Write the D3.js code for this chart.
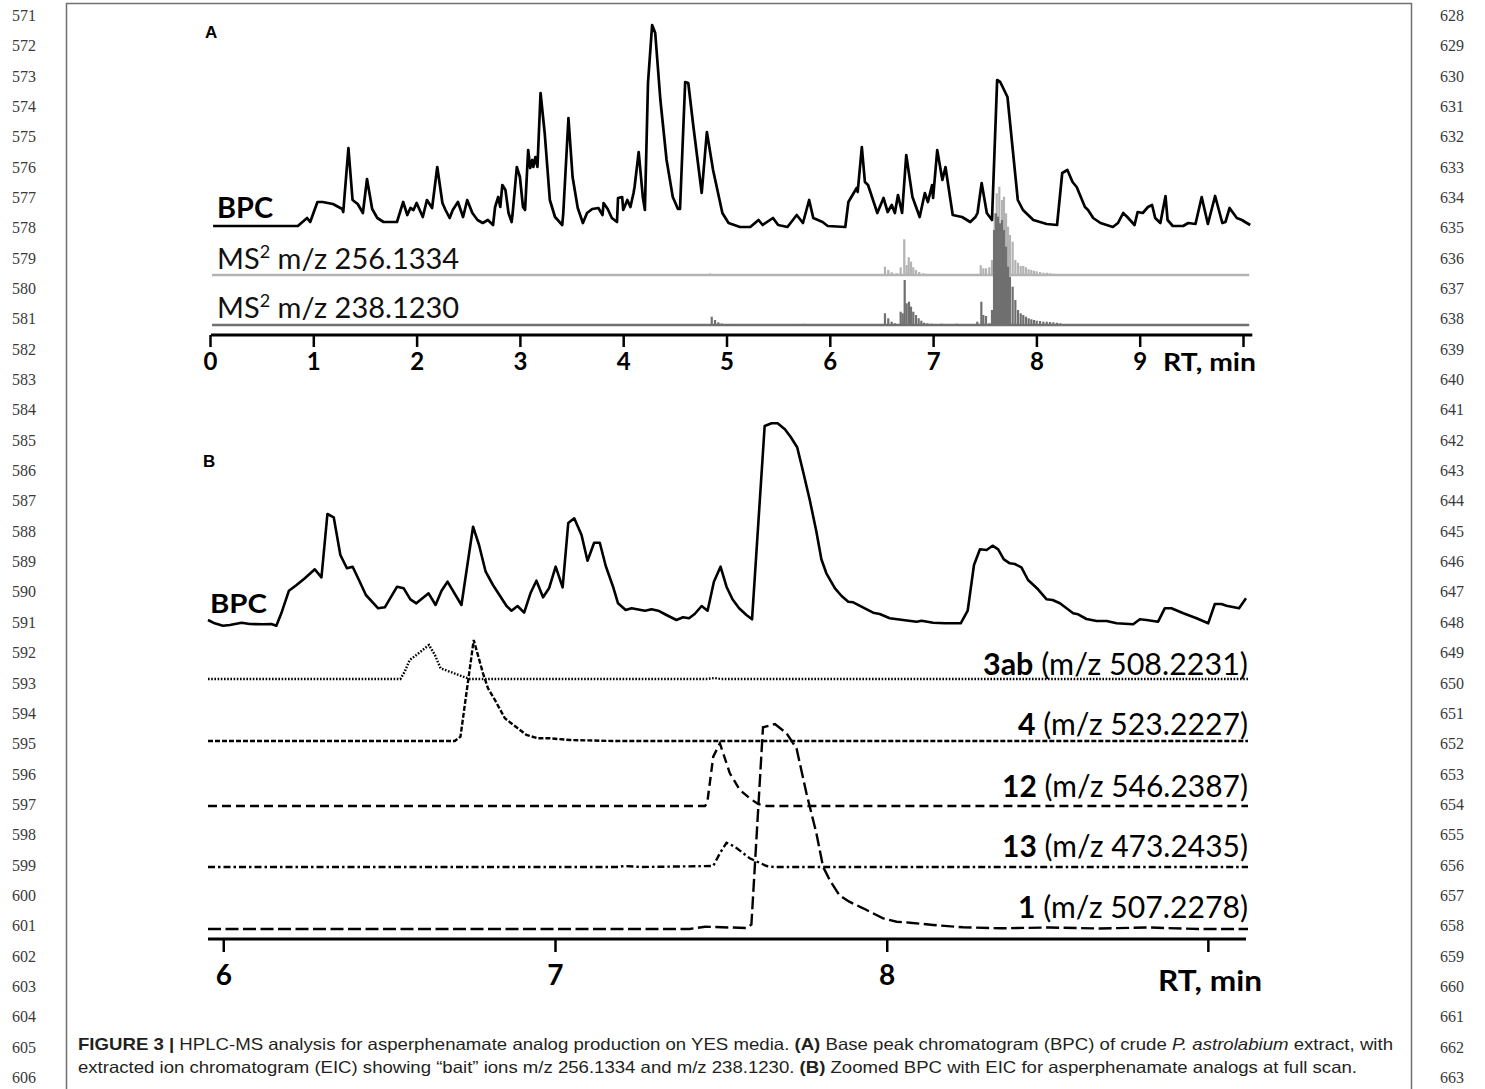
<!DOCTYPE html>
<html><head><meta charset="utf-8">
<script src="https://cdn.jsdelivr.net/npm/d3@7"></script>
<style>html,body{margin:0;padding:0;background:#fff;} svg{display:block;}</style>
</head><body><svg id="c" width="1485" height="1089"></svg>
<script>
// ---------------- DATA ----------------
// Panel A: base peak chromatogram [RT min, relative intensity]
const bpcA = [[0.03,1],[0.85,1],[0.94,9],[0.97,5],[1.04,25],[1.09,25],[1.19,23],[1.28,18],[1.29,15],[1.34,79],[1.38,27],[1.43,23],[1.48,14],[1.52,48],[1.57,18],[1.62,9],[1.68,5],[1.81,5],[1.87,25],[1.91,12],[1.94,19],[1.97,17],[2.00,24],[2.03,17],[2.06,10],[2.10,27],[2.15,19],[2.20,60],[2.25,24],[2.28,17],[2.32,9],[2.35,17],[2.40,25],[2.45,10],[2.49,27],[2.54,14],[2.59,7],[2.64,4],[2.69,7],[2.74,2],[2.76,20],[2.79,30],[2.81,20],[2.83,42],[2.86,37],[2.89,14],[2.92,5],[2.93,14],[2.97,60],[3.00,50],[3.03,20],[3.05,17],[3.08,77],[3.10,59],[3.12,67],[3.13,60],[3.15,70],[3.17,60],[3.20,134],[3.24,94],[3.29,27],[3.34,10],[3.41,2],[3.42,14],[3.47,109],[3.51,50],[3.56,19],[3.61,4],[3.65,14],[3.70,18],[3.76,19],[3.80,12],[3.81,24],[3.85,18],[3.89,9],[3.94,5],[3.95,29],[3.99,30],[4.00,17],[4.04,27],[4.07,20],[4.10,34],[4.11,40],[4.15,75],[4.19,30],[4.21,17],[4.24,144],[4.28,202],[4.31,194],[4.36,127],[4.42,67],[4.48,30],[4.53,18],[4.55,18],[4.60,145],[4.63,144],[4.68,100],[4.76,34],[4.81,95],[4.87,57],[4.96,14],[5.02,4],[5.13,0],[5.23,0],[5.31,7],[5.35,2],[5.45,9],[5.50,2],[5.59,0],[5.68,12],[5.74,4],[5.80,27],[5.84,9],[5.93,5],[5.98,1],[6.15,0],[6.18,25],[6.26,39],[6.27,35],[6.31,80],[6.34,45],[6.37,42],[6.46,14],[6.52,29],[6.56,15],[6.60,22],[6.63,14],[6.66,32],[6.70,14],[6.74,72],[6.80,30],[6.87,10],[6.92,34],[6.95,25],[6.99,42],[7.00,29],[7.04,77],[7.09,47],[7.12,60],[7.19,12],[7.28,10],[7.36,5],[7.41,10],[7.43,14],[7.47,44],[7.52,14],[7.57,7],[7.62,147],[7.65,145],[7.72,130],[7.82,27],[7.87,17],[7.97,7],[8.10,3],[8.20,2],[8.25,54],[8.30,57],[8.35,45],[8.39,40],[8.47,20],[8.50,17],[8.55,9],[8.62,4],[8.74,0],[8.79,4],[8.84,14],[8.88,10],[8.95,2],[8.98,15],[9.03,14],[9.08,20],[9.12,22],[9.15,9],[9.20,4],[9.25,31],[9.27,7],[9.32,1],[9.42,1],[9.47,4],[9.54,3],[9.60,30],[9.66,3],[9.73,31],[9.80,4],[9.83,5],[9.87,19],[9.94,9],[9.99,7],[10.02,5],[10.07,2]];

// Panel A: MS2 "bait" ion traces [RT min, intensity]
const ms2_256 = [[4.84,1.5],[6.534,8.3],[6.566,5],[6.599,2.7],[6.648,1.7],[6.686,7.7],[6.721,35.7],[6.744,10],[6.764,17.7],[6.786,13.3],[6.808,7.7],[6.834,5],[6.866,3],[6.905,1.7],[6.954,1],[7.461,9.7],[7.486,6.7],[7.512,6.7],[7.544,7.7],[7.570,15],[7.596,61.7],[7.616,81.7],[7.641,88.3],[7.667,75],[7.686,78.3],[7.706,61.7],[7.725,48.3],[7.744,40],[7.770,33.3],[7.796,15],[7.822,12.3],[7.848,9],[7.873,9],[7.899,7.7],[7.925,5.7],[7.951,5],[7.977,4.3],[8.003,3.7],[8.035,3],[8.067,2.3],[8.100,2.3],[8.132,1.7],[8.164,1.3],[8.199,1]];
const ms2_238 = [[4.857,8.3],[4.889,5],[4.921,2.7],[4.954,1.5],[5.063,1],[5.663,1],[5.750,1.2],[6.534,11.7],[6.566,6.7],[6.599,3.3],[6.631,1.7],[6.686,13.3],[6.706,11.7],[6.725,45],[6.744,21.7],[6.767,23.3],[6.786,18.3],[6.808,13.3],[6.834,10],[6.860,6.7],[6.886,4.3],[6.912,2.3],[6.944,1.7],[6.986,1.3],[7.083,1.3],[7.228,1.3],[7.428,3.3],[7.467,23.3],[7.486,10],[7.512,9],[7.544,1.7],[7.570,15],[7.590,95],[7.609,111.7],[7.628,108.3],[7.648,101.7],[7.667,105],[7.686,95],[7.706,78.3],[7.725,58.3],[7.744,48.3],[7.770,38.3],[7.796,25],[7.822,15],[7.848,11.7],[7.873,10],[7.899,8.3],[7.925,6.7],[7.951,5.7],[7.977,5],[8.003,4.3],[8.035,4],[8.067,3.3],[8.100,3.3],[8.132,3],[8.164,2.7],[8.199,2.3],[8.231,1.7]];

// Panel B: zoomed BPC
const bpcB = [[5.954,6],[5.974,2.7],[5.999,0.3],[6.020,1],[6.055,3.3],[6.080,2],[6.120,1.7],[6.145,2],[6.160,0.3],[6.175,12.7],[6.198,35.3],[6.221,41],[6.246,47.7],[6.276,56.7],[6.296,48.7],[6.314,112],[6.333,108.7],[6.353,71],[6.373,57.7],[6.390,59.3],[6.409,46],[6.430,31],[6.467,17.7],[6.487,18.7],[6.524,39.3],[6.544,37.7],[6.564,26.7],[6.582,22.7],[6.619,32.7],[6.640,21],[6.658,35.3],[6.676,44.3],[6.718,21],[6.753,99.3],[6.771,81],[6.791,54.3],[6.813,41],[6.854,20],[6.869,15.3],[6.887,20],[6.907,13.3],[6.926,32.7],[6.944,45.3],[6.964,28.7],[6.982,37.7],[7.002,59.3],[7.023,38.7],[7.040,103],[7.058,107.7],[7.080,91],[7.098,65.3],[7.118,83.3],[7.135,83.3],[7.153,60],[7.175,39.3],[7.190,22.7],[7.213,16],[7.231,17.7],[7.271,15.3],[7.291,16.7],[7.311,15.3],[7.336,11],[7.366,6],[7.386,8.7],[7.404,7.7],[7.421,12],[7.442,20],[7.460,15.3],[7.479,44.3],[7.499,59.3],[7.517,39.3],[7.535,26.7],[7.555,17.7],[7.577,11],[7.594,6.7],[7.632,200],[7.653,202.7],[7.671,202.7],[7.693,196.7],[7.710,189.3],[7.730,178.7],[7.748,154.3],[7.768,126],[7.788,94.3],[7.803,66.7],[7.818,52.7],[7.844,37.7],[7.864,30],[7.884,24.3],[7.899,23.7],[7.934,17.7],[7.959,13.3],[7.979,12],[8.009,7.7],[8.049,6],[8.090,4.3],[8.105,5.3],[8.140,3.3],[8.175,2.7],[8.223,2.7],[8.244,15.3],[8.263,61],[8.281,76.7],[8.301,76],[8.319,80.3],[8.336,76.7],[8.353,66.7],[8.371,62.7],[8.386,62],[8.406,58.7],[8.426,46],[8.456,36.7],[8.482,26.7],[8.500,26],[8.522,22.7],[8.562,12.7],[8.577,11.7],[8.602,7],[8.633,5],[8.663,5],[8.693,2.7],[8.743,1.7],[8.763,6.7],[8.783,6],[8.818,4.3],[8.838,17.7],[8.858,17.7],[8.894,12.7],[8.934,7.7],[8.969,2.7],[8.989,22],[9.009,22],[9.024,20.3],[9.062,17.7],[9.083,27.7]];

// Panel B: extracted ion chromatograms
const eic3ab = [[5.954,0],[6.534,0],[6.547,7.3],[6.562,19],[6.582,24],[6.620,34],[6.638,24],[6.655,10.7],[6.683,7.3],[6.728,1.7],[6.743,0],[7.46,0],[7.48,1],[7.50,0],[9.089,0]];
const eic4 = [[5.954,0],[6.698,0],[6.715,4.3],[6.755,101],[6.783,67.7],[6.798,52.7],[6.819,41],[6.849,22.7],[6.884,13.7],[6.914,6],[6.949,2.7],[6.984,2.7],[7.045,1],[7.175,0],[9.089,0]];
const eic12 = [[5.954,0],[7.452,0],[7.459,3.3],[7.477,49.3],[7.497,62.7],[7.527,32.7],[7.557,16],[7.587,7.7],[7.612,2],[7.638,0],[9.089,0]];
const eic13 = [[5.954,0],[7.19,0],[7.21,1],[7.26,0],[7.477,1],[7.497,13.7],[7.517,24.3],[7.542,20.3],[7.587,8.7],[7.638,1],[7.66,0],[9.089,0]];
const eic1 = [[5.954,0],[7.406,0],[7.452,2.3],[7.577,1],[7.592,4.3],[7.627,201.7],[7.663,205],[7.698,195.7],[7.728,180.7],[7.758,135.7],[7.788,95.7],[7.808,62.3],[7.828,49],[7.857,34],[7.887,27.3],[7.929,20.7],[7.989,10.7],[8.030,7.3],[8.070,6.3],[8.140,4],[8.230,1.7],[8.341,0.7],[8.49,1.5],[8.64,0.5],[8.79,1.5],[8.94,0],[9.089,0]];

const eicIds = ["3ab","4","12","13","1"];
const eicMz = ["508.2231","523.2227","546.2387","473.2435","507.2278"];
const ms2Mz = ["256.1334","238.1230"];

const ticksA = [0,1,2,3,4,5,6,7,8,9,10];
const tickLabelsA = ["0","1","2","3","4","5","6","7","8","9",""];
const ticksB = [6,7,8,8.968];
const tickLabelsB = ["6","7","8",""];

const captionLine1 = [["FIGURE 3 |","bold"],[" HPLC-MS analysis for asperphenamate analog production on YES media. ",""],["(A)","bold"],[" Base peak chromatogram (BPC) of crude ",""],["P. astrolabium","italic"],[" extract, with",""]];
const captionLine2 = [["extracted ion chromatogram (EIC) showing \u201Cbait\u201D ions m/z 256.1334 and m/z 238.1230. ",""],["(B)","bold"],[" Zoomed BPC with EIC for asperphenamate analogs at full scan.",""]];

const lineNumsLeft = d3.range(571, 607);
const lineNumsRight = d3.range(628, 664);

// ---------------- DRAW ----------------
const FONT = "Lato, 'Open Sans', sans-serif";
const svg = d3.select("#c");
svg.append("rect").attr("width",1485).attr("height",1089).attr("fill","#fff");

// page frame
svg.append("path").attr("d","M66.5,1089V3.5H1411.5V1089").attr("fill","none")
  .attr("stroke","#707070").attr("stroke-width",1.5);

// line numbers
const lnY = d3.scaleLinear().domain([0,1]).range([20.8, 51.15]);
svg.append("g").selectAll("text").data(lineNumsLeft).join("text")
  .attr("x",36).attr("y",(d,i)=>lnY(i)).attr("text-anchor","end")
  .attr("font-family","'Liberation Serif', serif").attr("font-size",16).attr("fill","#3a3a3a").text(d=>d);
svg.append("g").selectAll("text").data(lineNumsRight).join("text")
  .attr("x",1440).attr("y",(d,i)=>lnY(i)).attr("text-anchor","start")
  .attr("font-family","'Liberation Serif', serif").attr("font-size",16).attr("fill","#3a3a3a").text(d=>d);

// ===== Panel A =====
const xA = d3.scaleLinear().domain([0,10]).range([210,1243]);
const yA = d3.scaleLinear().domain([0,205]).range([227,22]);
const yM = [d3.scaleLinear().domain([0,100]).range([275,175]),
            d3.scaleLinear().domain([0,100]).range([325,225])];
const msColors = ["#b3b3b3","#707070"];
const msData = [ms2_256, ms2_238];

svg.append("text").attr("x",205).attr("y",38).attr("font-family","'Liberation Sans', Arial, sans-serif")
  .attr("font-weight","bold").attr("font-size",17).text("A");

msData.forEach((arr,k)=>{
  svg.append("line").attr("x1",xA(0.02)).attr("x2",xA(10.06)).attr("y1",yM[k](0)).attr("y2",yM[k](0))
    .attr("stroke",msColors[k]).attr("stroke-width",2.6);
  svg.append("g").selectAll("rect").data(arr).join("rect")
    .attr("x",d=>xA(d[0])-1.1).attr("width",2.2)
    .attr("y",d=>yM[k](d[1])).attr("height",d=>yM[k](0)-yM[k](d[1]))
    .attr("fill",msColors[k]);
});

svg.append("path").datum(bpcA)
  .attr("d",d3.line().x(d=>xA(d[0])).y(d=>yA(d[1])))
  .attr("fill","none").attr("stroke","#000").attr("stroke-width",2.7).attr("stroke-linejoin","round");

svg.append("text").attr("x",217).attr("y",218).attr("font-family",FONT).attr("font-weight","bold")
  .attr("font-size",28).attr("textLength",56).attr("lengthAdjust","spacingAndGlyphs").text("BPC");

[269,318].forEach((yy,k)=>{
  const t = svg.append("text").attr("x",217).attr("y",yy).attr("font-family",FONT).attr("font-size",29)
    .attr("fill","#111");
  t.append("tspan").text("MS");
  t.append("tspan").attr("dy",-11).attr("font-size",18).text("2");
  t.append("tspan").attr("dy",11).text(" m/z " + ms2Mz[k]);
});

const gA = svg.append("g").attr("transform","translate(0,335)");
gA.call(d3.axisBottom(xA).tickValues(ticksA).tickFormat((d,i)=>tickLabelsA[i]).tickSize(12).tickSizeOuter(0).tickPadding(6));
gA.select(".domain").remove();
gA.append("line").attr("x1",xA(0.01)).attr("x2",xA(10.09)).attr("stroke","#000").attr("stroke-width",3);
gA.selectAll(".tick line").attr("stroke","#000").attr("stroke-width",2.5);
gA.selectAll(".tick text").attr("font-family",FONT).attr("font-weight","bold").attr("font-size",24).attr("fill","#000");
svg.append("text").attr("x",1163).attr("y",371).attr("font-family",FONT).attr("font-weight","bold")
  .attr("font-size",24).attr("textLength",93).attr("lengthAdjust","spacingAndGlyphs").text("RT, min");

// ===== Panel B =====
const xB = d3.scaleLinear().domain([5.954,9.089]).range([208,1248]);
const yB = d3.scaleLinear().domain([0,203]).range([626,423]);

svg.append("text").attr("x",203).attr("y",467).attr("font-family","'Liberation Sans', Arial, sans-serif")
  .attr("font-weight","bold").attr("font-size",17).text("B");

svg.append("path").datum(bpcB)
  .attr("d",d3.line().x(d=>xB(d[0])).y(d=>yB(d[1])))
  .attr("fill","none").attr("stroke","#000").attr("stroke-width",2.6).attr("stroke-linejoin","round");
svg.append("text").attr("x",210).attr("y",613).attr("font-family",FONT).attr("font-weight","bold")
  .attr("font-size",27).attr("textLength",57).attr("lengthAdjust","spacingAndGlyphs").text("BPC");

const eicData = [eic3ab, eic4, eic12, eic13, eic1];
const eicBase = [679, 741, 806, 867, 929];
const eicDash = ["1.6,1.6","5,2","9,5","7,3,2.5,3","13,4.5"];
const eicLabelY = [675, 735, 797, 857, 918];
const eicLabelW = [265, 230, 246, 246, 230];
eicData.forEach((arr,k)=>{
  const y = d3.scaleLinear().domain([0,100]).range([eicBase[k], eicBase[k]-100]);
  svg.append("path").datum(arr)
    .attr("d",d3.line().x(d=>xB(d[0])).y(d=>y(d[1])))
    .attr("fill","none").attr("stroke","#000").attr("stroke-width",2.4)
    .attr("stroke-dasharray",eicDash[k]);
  const t = svg.append("text").attr("x",1248).attr("y",eicLabelY[k]).attr("text-anchor","end")
    .attr("font-family",FONT).attr("font-size",31).attr("fill","#000")
    .attr("textLength",eicLabelW[k]).attr("lengthAdjust","spacingAndGlyphs").style("white-space","pre");
  t.append("tspan").attr("font-weight","bold").text(eicIds[k]);
  t.append("tspan").text(" (m/z " + eicMz[k] + ")");
});

const gB = svg.append("g").attr("transform","translate(0,939)");
gB.call(d3.axisBottom(xB).tickValues(ticksB).tickFormat((d,i)=>tickLabelsB[i]).tickSize(13).tickSizeOuter(0).tickPadding(13));
gB.select(".domain").remove();
gB.append("line").attr("x1",xB(5.954)).attr("x2",xB(9.083)).attr("stroke","#000").attr("stroke-width",3);
gB.selectAll(".tick line").attr("stroke","#000").attr("stroke-width",2.5);
gB.selectAll(".tick text").attr("font-family",FONT).attr("font-weight","bold").attr("font-size",28).attr("fill","#000");
svg.append("text").attr("x",1158).attr("y",991).attr("font-family",FONT).attr("font-weight","bold")
  .attr("font-size",28).attr("textLength",104).attr("lengthAdjust","spacingAndGlyphs").text("RT, min");

// ===== Caption =====
[[captionLine1,1050,1315],[captionLine2,1073,1279]].forEach(([parts,yy,w])=>{
  const t = svg.append("text").attr("x",78).attr("y",yy)
    .attr("font-family","'Liberation Sans', Arial, sans-serif").attr("font-size",16.5).attr("fill","#231f20")
    .attr("textLength",w).attr("lengthAdjust","spacingAndGlyphs").style("white-space","pre");
  parts.forEach(([s,st])=>{
    const ts = t.append("tspan").text(s);
    if(st==="bold") ts.attr("font-weight","bold");
    if(st==="italic") ts.attr("font-style","italic");
  });
});
</script></body></html>
